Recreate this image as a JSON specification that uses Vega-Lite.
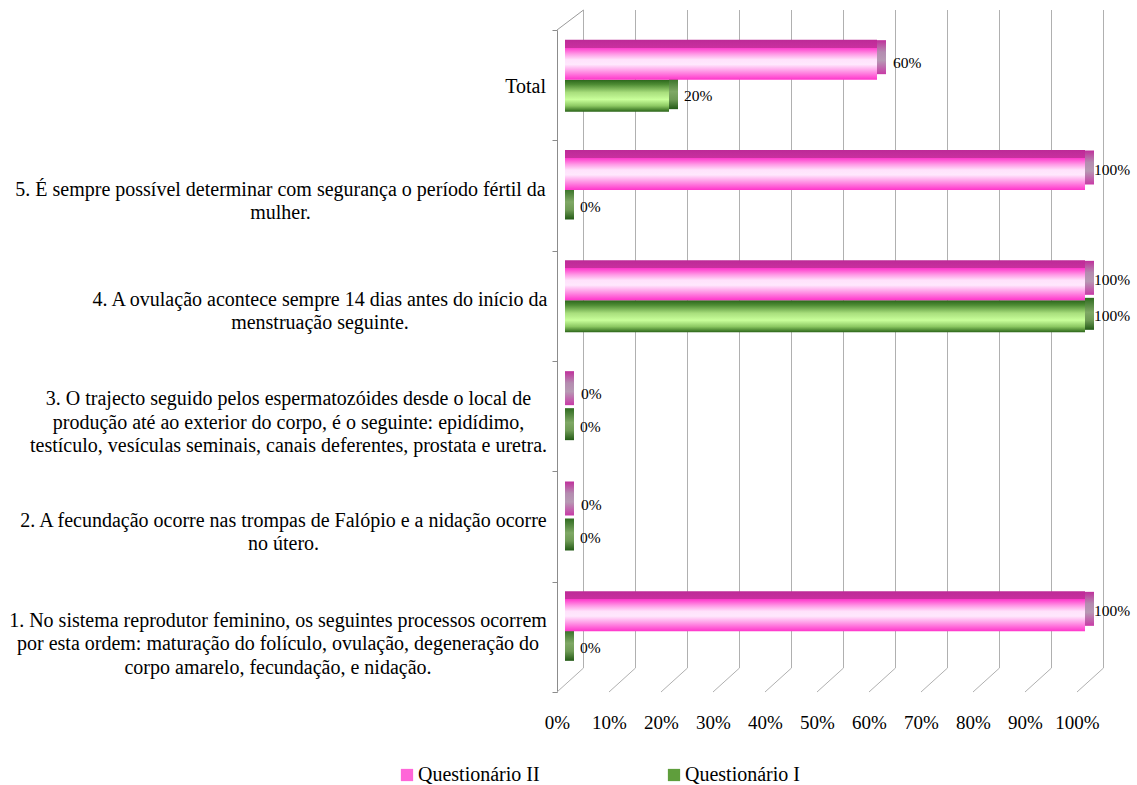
{
  "$schema": "https://vega.github.io/schema/vega-lite/v6.json",
  "width": 520,
  "height": 662,
  "autosize": {"type": "none"},
  "padding": {"left": 565, "top": 30, "right": 52, "bottom": 93},
  "background": "white",
  "config": {"view": {"stroke": null}, "font": "Liberation Serif"},
  "datasets": {
    "bars": [
      {"cat": "Total", "series": "Questionário II", "value": 0.6},
      {"cat": "Total", "series": "Questionário I", "value": 0.2},
      {"cat": "5", "series": "Questionário II", "value": 1.0},
      {"cat": "5", "series": "Questionário I", "value": 0.0},
      {"cat": "4", "series": "Questionário II", "value": 1.0},
      {"cat": "4", "series": "Questionário I", "value": 1.0},
      {"cat": "3", "series": "Questionário II", "value": 0.0},
      {"cat": "3", "series": "Questionário I", "value": 0.0},
      {"cat": "2", "series": "Questionário II", "value": 0.0},
      {"cat": "2", "series": "Questionário I", "value": 0.0},
      {"cat": "1", "series": "Questionário II", "value": 1.0},
      {"cat": "1", "series": "Questionário I", "value": 0.0}
    ],
    "cats": [
      {"cat": "Total", "label": "Total"},
      {"cat": "5", "label": "5. É sempre possível determinar com segurança o período fértil da|mulher."},
      {"cat": "4", "label": "4. A ovulação acontece sempre 14 dias antes do início da|menstruação seguinte."},
      {"cat": "3", "label": "3. O trajecto seguido pelos espermatozóides desde o local de|produção até ao exterior do corpo, é o seguinte: epidídimo,|testículo, vesículas seminais, canais deferentes, prostata e uretra."},
      {"cat": "2", "label": "2. A fecundação ocorre nas trompas de Falópio e a nidação ocorre|no útero."},
      {"cat": "1", "label": "1. No sistema reprodutor feminino, os seguintes processos ocorrem|por esta ordem: maturação do folículo, ovulação, degeneração do|corpo amarelo, fecundação, e nidação."}
    ],
    "grid": [
      {"v": 0}, {"v": 0.1}, {"v": 0.2}, {"v": 0.3}, {"v": 0.4}, {"v": 0.5},
      {"v": 0.6}, {"v": 0.7}, {"v": 0.8}, {"v": 0.9}, {"v": 1.0}
    ]
  },
  "resolve": {"scale": {"y": "independent"}, "axis": {"y": "independent"}},
  "layer": [
    {
      "layer": [
        {
          "data": {"name": "grid"},
          "mark": {"type": "rule", "color": "#b0b0b0", "strokeWidth": 1, "xOffset": 18.5, "x2Offset": 18.5, "yOffset": -20, "y2Offset": -24},
          "encoding": {
            "x": {
              "field": "v", "type": "quantitative",
              "scale": {"domain": [0, 1], "nice": false, "zero": true},
              "axis": {
                "title": null, "format": ".0%", "values": [0, 0.1, 0.2, 0.3, 0.4, 0.5, 0.6, 0.7, 0.8, 0.9, 1],
                "labelOffset": -8, "labelFontSize": 19, "labelColor": "#000000",
                "domain": false, "ticks": false, "grid": false, "labelPadding": 21, "labelFlush": false
              }
            },
            "y": {"datum": 1, "type": "quantitative", "scale": {"domain": [0, 1], "nice": false}, "axis": null},
            "y2": {"datum": 0}
          }
        },
        {
          "data": {"name": "grid"},
          "mark": {"type": "rule", "color": "#b0b0b0", "strokeWidth": 1, "xOffset": 18.5, "x2Offset": -8, "yOffset": -24, "y2Offset": 0},
          "encoding": {
            "x": {"field": "v", "type": "quantitative"},
            "x2": {"field": "v"},
            "y": {"datum": 0, "type": "quantitative"},
            "y2": {"datum": 0}
          }
        },
        {
          "data": {"values": [{"v": 0}]},
          "mark": {"type": "rule", "color": "#9a9a9a", "strokeWidth": 1, "xOffset": -8, "x2Offset": 18.5, "yOffset": 0, "y2Offset": -20},
          "encoding": {
            "x": {"field": "v", "type": "quantitative"},
            "x2": {"field": "v"},
            "y": {"datum": 1, "type": "quantitative"},
            "y2": {"datum": 1}
          }
        }
      ]
    },
    {
      "layer": [
        {
          "data": {"name": "bars"},
          "mark": {"type": "bar"},
          "encoding": {
            "y": {
              "field": "cat", "type": "nominal", "sort": ["Total", "5", "4", "3", "2", "1"],
              "scale": {"domain": ["Total", "5", "4", "3", "2", "1"], "paddingInner": 0, "paddingOuter": 0},
              "axis": {
                "orient": "left", "title": null, "labels": false, "offset": 8, "domainColor": "#8c8c8c", "tickColor": "#8c8c8c",
                "tickSize": 5, "tickBand": "extent", "grid": false
              }
            },
            "x": {"datum": 0, "type": "quantitative"},
            "color": {
              "field": "series", "type": "nominal",
              "scale": {"domain": ["Questionário II", "Questionário I"], "range": ["#ff66d8", "#5f9e3c"]},
              "legend": {
                "title": null, "orient": "none", "legendX": -168, "legendY": 735, "direction": "horizontal",
                "columns": 2, "columnPadding": 124, "symbolType": "square", "symbolSize": 150,
                "labelFontSize": 20, "labelColor": "#000000", "labelOffset": 1,
                "symbolOpacity": 1, "symbolStrokeWidth": 0
              }
            }
          }
        },
        {
          "data": {"name": "bars"},
          "transform": [{"filter": "datum.series == 'Questionário I'"}],
          "mark": {
            "type": "bar", "height": 32, "yOffset": 8, "x2Offset": 9,
            "color": {
              "gradient": "linear", "x1": 0, "y1": 0, "x2": 0, "y2": 1,
              "stops": [
                {"offset": 0, "color": "#2f6b20"},
                {"offset": 0.45, "color": "#7fa865"},
                {"offset": 0.7, "color": "#6e9a55"},
                {"offset": 1, "color": "#235a16"}
              ]
            }
          },
          "encoding": {
            "y": {"field": "cat", "type": "nominal", "sort": ["Total", "5", "4", "3", "2", "1"]},
            "x": {"field": "value", "type": "quantitative"},
            "x2": {"field": "value"}
          }
        },
        {
          "data": {"name": "bars"},
          "transform": [{"filter": "datum.series == 'Questionário I'"}],
          "mark": {
            "type": "bar", "height": 32, "yOffset": 10.5,
            "color": {
              "gradient": "linear", "x1": 0, "y1": 0, "x2": 0, "y2": 1,
              "stops": [
                {"offset": 0, "color": "#2a661b"},
                {"offset": 0.15, "color": "#4e8c34"},
                {"offset": 0.4, "color": "#a8de7c"},
                {"offset": 0.62, "color": "#c9ff9b"},
                {"offset": 0.82, "color": "#8cc862"},
                {"offset": 1, "color": "#2a6418"}
              ]
            }
          },
          "encoding": {
            "y": {"field": "cat", "type": "nominal", "sort": ["Total", "5", "4", "3", "2", "1"]},
            "x": {"field": "value", "type": "quantitative"}
          }
        },
        {
          "data": {"name": "bars"},
          "transform": [{"filter": "datum.series == 'Questionário II'"}],
          "mark": {
            "type": "bar", "height": 34, "yOffset": -28, "x2Offset": 9,
            "color": {
              "gradient": "linear", "x1": 0, "y1": 0, "x2": 0, "y2": 1,
              "stops": [
                {"offset": 0, "color": "#c0309c"},
                {"offset": 0.35, "color": "#b48cb0"},
                {"offset": 0.6, "color": "#b79ab4"},
                {"offset": 1, "color": "#c83aa6"}
              ]
            }
          },
          "encoding": {
            "y": {"field": "cat", "type": "nominal", "sort": ["Total", "5", "4", "3", "2", "1"]},
            "x": {"field": "value", "type": "quantitative"},
            "x2": {"field": "value"}
          }
        },
        {
          "data": {"name": "bars"},
          "transform": [{"filter": "datum.series == 'Questionário II'"}],
          "mark": {
            "type": "bar", "height": 40, "yOffset": -25.5,
            "color": {
              "gradient": "linear", "x1": 0, "y1": 0, "x2": 0, "y2": 1,
              "stops": [
                {"offset": 0, "color": "#bd2a97"},
                {"offset": 0.2, "color": "#c9309f"},
                {"offset": 0.2, "color": "#ff3acb"},
                {"offset": 0.36, "color": "#ff9ae6"},
                {"offset": 0.5, "color": "#ffe2fb"},
                {"offset": 0.62, "color": "#ffe8fd"},
                {"offset": 0.82, "color": "#ff8ae2"},
                {"offset": 1, "color": "#ff35cb"}
              ]
            }
          },
          "encoding": {
            "y": {"field": "cat", "type": "nominal", "sort": ["Total", "5", "4", "3", "2", "1"]},
            "x": {"field": "value", "type": "quantitative"}
          }
        },
        {
          "data": {"name": "bars"},
          "transform": [{"filter": "datum.series == 'Questionário II' && datum.value < 1"}],
          "mark": {"type": "text", "align": "left", "baseline": "middle", "dx": 16, "dy": -22, "fontSize": 15.5, "color": "#000000"},
          "encoding": {
            "y": {"field": "cat", "type": "nominal", "sort": ["Total", "5", "4", "3", "2", "1"]},
            "x": {"field": "value", "type": "quantitative"},
            "text": {"field": "value", "type": "quantitative", "format": ".0%"}
          }
        },
        {
          "data": {"name": "bars"},
          "transform": [{"filter": "datum.series == 'Questionário II' && datum.value >= 1"}],
          "mark": {"type": "text", "align": "left", "baseline": "middle", "dx": 9, "dy": -26, "fontSize": 15.5, "color": "#000000"},
          "encoding": {
            "y": {"field": "cat", "type": "nominal", "sort": ["Total", "5", "4", "3", "2", "1"]},
            "x": {"field": "value", "type": "quantitative"},
            "text": {"field": "value", "type": "quantitative", "format": ".0%"}
          }
        },
        {
          "data": {"name": "bars"},
          "transform": [{"filter": "datum.series == 'Questionário I' && datum.value < 1"}],
          "mark": {"type": "text", "align": "left", "baseline": "middle", "dx": 15, "dy": 11, "fontSize": 15.5, "color": "#000000"},
          "encoding": {
            "y": {"field": "cat", "type": "nominal", "sort": ["Total", "5", "4", "3", "2", "1"]},
            "x": {"field": "value", "type": "quantitative"},
            "text": {"field": "value", "type": "quantitative", "format": ".0%"}
          }
        },
        {
          "data": {"name": "bars"},
          "transform": [{"filter": "datum.series == 'Questionário I' && datum.value >= 1"}],
          "mark": {"type": "text", "align": "left", "baseline": "middle", "dx": 9, "dy": 10, "fontSize": 15.5, "color": "#000000"},
          "encoding": {
            "y": {"field": "cat", "type": "nominal", "sort": ["Total", "5", "4", "3", "2", "1"]},
            "x": {"field": "value", "type": "quantitative"},
            "text": {"field": "value", "type": "quantitative", "format": ".0%"}
          }
        },
        {
          "data": {"name": "cats"},
          "transform": [{"filter": "datum.cat == 'Total'"}],
          "mark": {"type": "text", "align": "right", "baseline": "middle", "dx": -19, "dy": 2, "fontSize": 20, "color": "#000000"},
          "encoding": {
            "y": {"field": "cat", "type": "nominal", "sort": ["Total", "5", "4", "3", "2", "1"]},
            "x": {"datum": 0, "type": "quantitative"},
            "text": {"field": "label", "type": "nominal"}
          }
        },
        {
          "data": {"name": "cats"},
          "transform": [{"filter": "datum.cat == '5'"}],
          "mark": {"type": "text", "align": "center", "baseline": "middle", "dx": -284.5, "dy": -6, "fontSize": 20, "lineHeight": 23.5, "lineBreak": "|", "color": "#000000"},
          "encoding": {
            "y": {"field": "cat", "type": "nominal", "sort": ["Total", "5", "4", "3", "2", "1"]},
            "x": {"datum": 0, "type": "quantitative"},
            "text": {"field": "label", "type": "nominal"}
          }
        },
        {
          "data": {"name": "cats"},
          "transform": [{"filter": "datum.cat == '4'"}],
          "mark": {"type": "text", "align": "center", "baseline": "middle", "dx": -245, "dy": -6, "fontSize": 20, "lineHeight": 23.5, "lineBreak": "|", "color": "#000000"},
          "encoding": {
            "y": {"field": "cat", "type": "nominal", "sort": ["Total", "5", "4", "3", "2", "1"]},
            "x": {"datum": 0, "type": "quantitative"},
            "text": {"field": "label", "type": "nominal"}
          }
        },
        {
          "data": {"name": "cats"},
          "transform": [{"filter": "datum.cat == '2'"}],
          "mark": {"type": "text", "align": "center", "baseline": "middle", "dx": -281.5, "dy": -6, "fontSize": 20, "lineHeight": 23.5, "lineBreak": "|", "color": "#000000"},
          "encoding": {
            "y": {"field": "cat", "type": "nominal", "sort": ["Total", "5", "4", "3", "2", "1"]},
            "x": {"datum": 0, "type": "quantitative"},
            "text": {"field": "label", "type": "nominal"}
          }
        },
        {
          "data": {"name": "cats"},
          "transform": [{"filter": "datum.cat == '3'"}],
          "mark": {"type": "text", "align": "center", "baseline": "middle", "dx": -276.5, "dy": -17, "fontSize": 20, "lineHeight": 23.5, "lineBreak": "|", "color": "#000000"},
          "encoding": {
            "y": {"field": "cat", "type": "nominal", "sort": ["Total", "5", "4", "3", "2", "1"]},
            "x": {"datum": 0, "type": "quantitative"},
            "text": {"field": "label", "type": "nominal"}
          }
        },
        {
          "data": {"name": "cats"},
          "transform": [{"filter": "datum.cat == '1'"}],
          "mark": {"type": "text", "align": "center", "baseline": "middle", "dx": -287, "dy": -16, "fontSize": 20, "lineHeight": 23.5, "lineBreak": "|", "color": "#000000"},
          "encoding": {
            "y": {"field": "cat", "type": "nominal", "sort": ["Total", "5", "4", "3", "2", "1"]},
            "x": {"datum": 0, "type": "quantitative"},
            "text": {"field": "label", "type": "nominal"}
          }
        }
      ]
    }
  ]
}
